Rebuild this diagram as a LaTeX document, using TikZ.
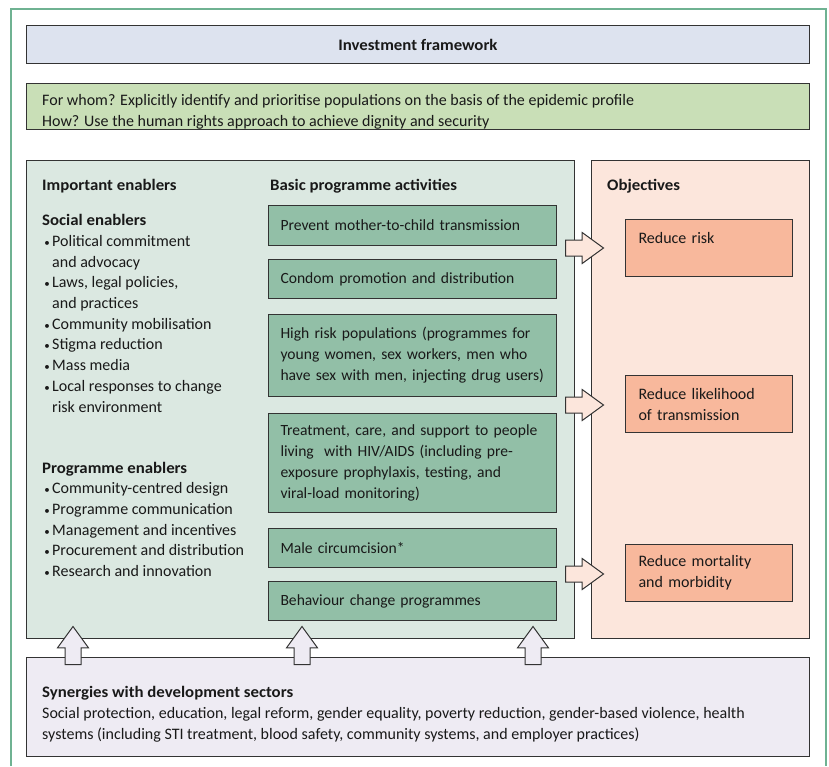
\documentclass[tikz,border=0pt]{standalone}
\usepackage{fontspec}
\setmainfont{Carlito}[BoldFeatures={FakeStretch=1.05}]
\usetikzlibrary{shapes.arrows}
\definecolor{headblue}{HTML}{DDE3EF}
\definecolor{whogreen}{HTML}{C9DFB7}
\definecolor{panelgreen}{HTML}{DBE8E1}
\definecolor{actgreen}{HTML}{92BFA7}
\definecolor{objpink}{HTML}{FCE6DC}
\definecolor{objsalmon}{HTML}{F8B89C}
\definecolor{synlilac}{HTML}{EEEBF3}
\definecolor{framegreen}{HTML}{6FB292}
\newcommand{\itm}{\makebox[10pt]{\fontsize{11}{11}\selectfont\textbullet}}
\newcommand{\ind}{\hspace*{10pt}}
\begin{document}
\begin{tikzpicture}[x=1pt, y=-1pt,
    every node/.style={font=\fontsize{16}{21}\selectfont, text=black!90},
    box/.style={draw=black!80, line width=1pt, anchor=north west, inner sep=0pt},
    actbox/.style={box, fill=actgreen, minimum width=288, text width=264, inner xsep=12, align=left,
      font=\fontsize{15.6}{21}\selectfont},
    objbox/.style={box, fill=objsalmon, minimum width=167, minimum height=57, text width=141, inner xsep=13, align=left},
    txt/.style={anchor=base west, align=left, inner sep=0pt},
    harrow/.style={single arrow, draw=black!80, line width=1pt, fill=objpink, inner sep=7.5pt,
      minimum height=38, single arrow head extend=7.5pt,
      single arrow tip angle=72, anchor=tail},
    varrow/.style={harrow, fill=synlilac, shape border rotate=90}]
  \useasboundingbox (0,0) rectangle (829,766);
  \fill[white] (0,0) rectangle (829,766);
  \draw[framegreen, line width=1.5pt] (11,766) -- (11,9) -- (826,9) -- (826,766);
  % top rows
  \node (head) [box, fill=headblue, minimum width=783, minimum height=38] at (26,25)
    {\textbf{Investment framework}};
  \node (who) [box, fill=whogreen, minimum width=783, minimum height=46] at (26,83) {};
  \node (whotxt) [txt] at (42,126)
    {For whom? Explicitly identify and prioritise populations on the basis of the epidemic profile\\
     How? Use the human rights approach to achieve dignity and security};
  % panels
  \node (enab) [box, fill=panelgreen, minimum width=548, minimum height=478] at (26,160) {};
  \node (obj) [box, fill=objpink, minimum width=218, minimum height=478] at (591,160) {};
  \node (syn) [box, fill=synlilac, minimum width=783, minimum height=99] at (26,657) {};
  \node (imp) [txt] at (42,190) {\textbf{Important enablers}};
  \node (bpa) [txt] at (270,190) {\textbf{Basic programme activities}};
  \node (objt) [txt] at (607,190) {\textbf{Objectives}};
  \node (soc) [txt, font=\fontsize{16}{20.7}\selectfont] at (42,412)
    {\textbf{Social enablers}\\
     \itm Political commitment\\ \ind and advocacy\\
     \itm Laws, legal policies,\\ \ind and practices\\
     \itm Community mobilisation\\
     \itm Stigma reduction\\
     \itm Mass media\\
     \itm Local responses to change\\ \ind risk environment};
  \node (prg) [txt, font=\fontsize{16}{20.7}\selectfont] at (42,576.5)
    {\textbf{Programme enablers}\\
     \itm Community-centred design\\
     \itm Programme communication\\
     \itm Management and incentives\\
     \itm Procurement and distribution\\
     \itm Research and innovation};
  % activities
  \node (pmtct) [actbox, minimum height=40] at (268,205) {Prevent mother-to-child transmission};
  \node (condom) [actbox, minimum height=39] at (268,259) {Condom promotion and distribution};
  \node (risky) [actbox, minimum height=82] at (268,314)
    {High risk populations (programmes for\\ young women, sex workers, men who\\
     have sex with men, injecting drug users)};
  \node (treat) [actbox, minimum height=99] at (268,413)
    {Treatment, care, and support to people\\ living\ \ with HIV/AIDS (including pre-\\
     exposure prophylaxis, testing, and\\ viral-load monitoring)};
  \node (circ) [actbox, minimum height=39] at (268,528) {Male circumcision*};
  \node (behav) [actbox, minimum height=39] at (268,581) {Behaviour change programmes};
  % objectives
  \node (risk) [objbox] at (625,219) {Reduce risk\\ \mbox{}};
  \node (likely) [objbox] at (625,375) {Reduce likelihood\\ of transmission};
  \node (mort) [objbox] at (625,544) {Reduce mortality\\ and morbidity};
  % block arrows
  \node (ar1) [harrow] at (565,248) {};
  \node (ar2) [harrow] at (565,405) {};
  \node (ar3) [harrow] at (565,574) {};
  \node (up1) [varrow] at (73,665) {};
  \node (up2) [varrow] at (302,665) {};
  \node (up3) [varrow] at (533,665) {};
  \node (syntxt) [txt] at (42,739)
    {\textbf{Synergies with development sectors}\\
     Social protection, education, legal reform, gender equality, poverty reduction, gender-based violence, health\\
     systems (including STI treatment, blood safety, community systems, and employer practices)};
\end{tikzpicture}
\end{document}
